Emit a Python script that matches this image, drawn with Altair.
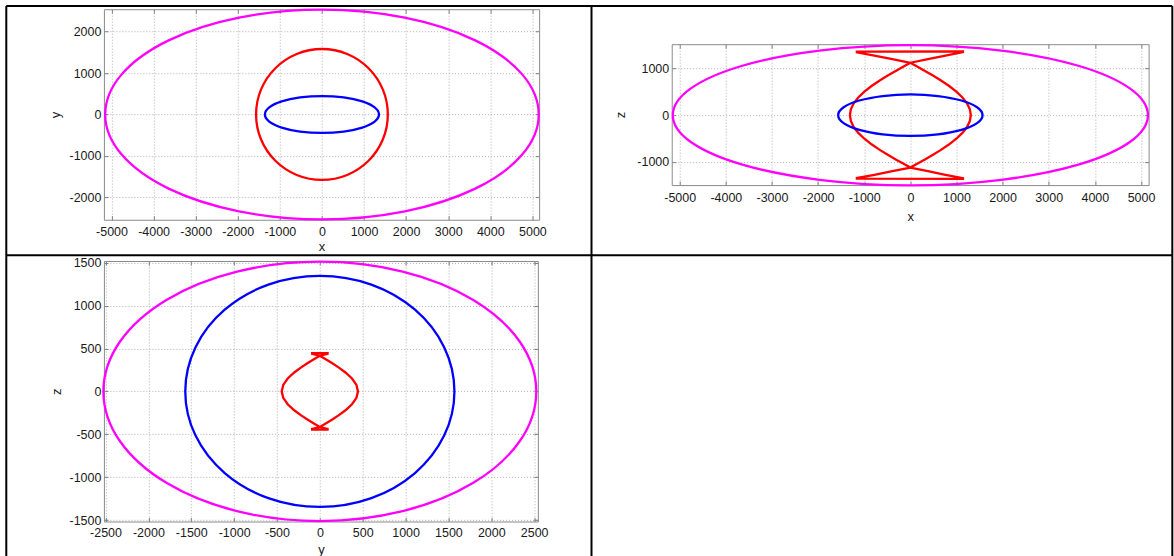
import altair as alt
import pandas as pd

# ---------------- data ----------------
# Panel 1 (x - y plane)
p1_mag_x = [5150, 4758, 3642, 1971, 0, -1971, -3642, -4758, -5150, -4758, -3642, -1971, 0, 1971, 3642, 4758]
p1_mag_y = [0, 968, 1789, 2337, 2530, 2337, 1789, 968, 0, -968, -1789, -2337, -2530, -2337, -1789, -968]
p1_red_x = [1565, 1446, 1107, 599, 0, -599, -1107, -1446, -1565, -1446, -1107, -599, 0, 599, 1107, 1446]
p1_red_y = [0, 605, 1117, 1460, 1580, 1460, 1117, 605, 0, -605, -1117, -1460, -1580, -1460, -1117, -605]
p1_blu_x = [1355, 1252, 958, 519, 0, -519, -958, -1252, -1355, -1252, -958, -519, 0, 519, 958, 1252]
p1_blu_y = [0, 170, 315, 411, 445, 411, 315, 170, 0, -170, -315, -411, -445, -411, -315, -170]

# Panel 2 (x - z plane)
p2_mag_x = [5150, 4758, 3642, 1971, 0, -1971, -3642, -4758, -5150, -4758, -3642, -1971, 0, 1971, 3642, 4758]
p2_mag_z = [0, 575, 1061, 1386, 1505, 1386, 1061, 575, 0, -575, -1061, -1386, -1505, -1386, -1061, -575]
p2_blu_x = [1565, 1446, 1107, 599, 0, -599, -1107, -1446, -1565, -1446, -1107, -599, 0, 599, 1107, 1446]
p2_blu_z = [0, 170, 315, 411, 445, 411, 315, 170, 0, -170, -315, -411, -445, -411, -315, -170]
p2_red_x = [-1160, 1140, 1140, 760, 380, 0,
            -137, -317, -490, -655, -842, -1003, -1134, -1231, -1290, -1310,
            -1290, -1231, -1134, -1003, -842, -655, -490, -317, -137, 0,
            380, 760, 1140, 1140, -1160, -1160, -780, -390, 0,
            137, 317, 490, 655, 842, 1003, 1134, 1231, 1290, 1310,
            1290, 1231, 1134, 1003, 842, 655, 490, 317, 137, 0,
            -390, -780, -1160]
p2_red_z = [1362, 1368, 1352, 1280, 1202, 1125,
            1050, 950, 850, 750, 625, 500, 375, 250, 125, 0,
            -125, -250, -375, -500, -625, -750, -850, -950, -1050, -1125,
            -1202, -1280, -1352, -1368, -1362, -1348, -1280, -1202, -1125,
            -1050, -950, -850, -750, -625, -500, -375, -250, -125, 0,
            125, 250, 375, 500, 625, 750, 850, 950, 1050, 1125,
            1202, 1280, 1348]

# Panel 3 (y - z plane)
p3_mag_y = [2525, 2333, 1785, 966, 0, -966, -1785, -2333, -2525, -2333, -1785, -966, 0, 966, 1785, 2333]
p3_mag_z = [0, 578, 1068, 1395, 1510, 1395, 1068, 578, 0, -578, -1068, -1395, -1510, -1395, -1068, -578]
p3_blu_y = [1570, 1450, 1110, 601, 0, -601, -1110, -1450, -1570, -1450, -1110, -601, 0, 601, 1110, 1450]
p3_blu_z = [0, 515, 951, 1243, 1345, 1243, 951, 515, 0, -515, -951, -1243, -1345, -1243, -951, -515]
p3_red_y = [-90, 90, 90, 0,
            -59, -141, -218, -299, -375, -427, -445,
            -427, -375, -299, -218, -141, -59, 0,
            90, 90, -90, -90, 0,
            59, 141, 218, 299, 375, 427, 445,
            427, 375, 299, 218, 141, 59, 0,
            -90]
p3_red_z = [445, 445, 438, 415,
            380, 330, 280, 220, 150, 75, 0,
            -75, -150, -220, -280, -330, -380, -415,
            -438, -445, -445, -438, -415,
            -380, -330, -280, -220, -150, -75, 0,
            75, 150, 220, 280, 330, 380, 415,
            438]

# tick values
ticks_x5000 = [-5000, -4000, -3000, -2000, -1000, 0, 1000, 2000, 3000, 4000, 5000]
ticks_y2000 = [-2000, -1000, 0, 1000, 2000]
ticks_z1000 = [-1000, 0, 1000]
ticks_y2500 = [-2500, -2000, -1500, -1000, -500, 0, 500, 1000, 1500, 2000, 2500]
ticks_z1500 = [-1500, -1000, -500, 0, 500, 1000, 1500]

MAGENTA = "#ff00ff"
RED = "#ff0000"
BLUE = "#0000ff"
LABEL_EXPR = "'' + datum.value"


def frame(h, v):
    return pd.DataFrame({"h": h, "v": v, "i": list(range(len(h)))})


def panel(curves, xdom, ydom, xticks, yticks, xtitle, ytitle, w, h, title_x, title_y,
          xpad=6.2, extra=()):
    xs = alt.Scale(domain=xdom, nice=False, zero=False)
    ys = alt.Scale(domain=ydom, nice=False, zero=False)
    layers = []
    for k, (df, color, interp) in enumerate(curves):
        if k == 0:
            xa = alt.Axis(orient="bottom", values=xticks, offset=-4, tickSize=4, domain=False,
                          grid=True, labelPadding=xpad, labelFlush=False, labelOverlap=False,
                          labelExpr=LABEL_EXPR,
                          title=xtitle, titleY=title_y, titleBaseline="alphabetic")
            ya = alt.Axis(orient="left", values=yticks, offset=-4, tickSize=4, domain=False,
                          grid=True, labelPadding=3.0, labelFlush=False, labelOverlap=False,
                          labelExpr=LABEL_EXPR,
                          title=ytitle, titleX=title_x, titleBaseline="alphabetic")
        elif k == 1:
            xa = alt.Axis(orient="top", values=xticks, offset=-4, tickSize=4, domain=False,
                          grid=False, labels=False, title="")
            ya = alt.Axis(orient="right", values=yticks, offset=-4, tickSize=4, domain=False,
                          grid=False, labels=False, title="")
        else:
            xa = None
            ya = None
        layers.append(
            alt.Chart(df).mark_line(color=color, strokeWidth=2.3, interpolate=interp).encode(
                x=alt.X("h:Q", scale=xs, axis=xa),
                y=alt.Y("v:Q", scale=ys, axis=ya),
                order=alt.Order("i:Q"),
            )
        )
    layers.extend(extra)
    return alt.layer(*layers).resolve_axis(x="independent", y="independent").properties(
        width=w, height=h, view=alt.ViewBackground(stroke="#8a8a8a", strokeWidth=1)
    )


one = pd.DataFrame({"k": [0]})


def border(x1, x2, y1, y2):
    return alt.Chart(one).mark_rule(color="black", strokeWidth=2).encode(
        x=alt.value(x1), x2=alt.value(x2), y=alt.value(y1), y2=alt.value(y2)
    )


# table borders, relative to panel 1 plot origin
borders = [
    border(-97.7, -97.7, -3.3, 549),
    border(-97.7, 1069.3, -3.3, -3.3),
    border(1069.3, 1069.3, -3.3, 549),
    border(488.0, 488.0, -3.3, 549),
    border(-97.7, 1069.3, 246.2, 246.2),
]

p1 = panel(
    [(frame(p1_mag_x, p1_mag_y), MAGENTA, "cardinal-closed"),
     (frame(p1_red_x, p1_red_y), RED, "cardinal-closed"),
     (frame(p1_blu_x, p1_blu_y), BLUE, "cardinal-closed")],
    [-5180, 5160], [-2540, 2540], ticks_x5000, ticks_y2000, "x", "y",
    435.6, 210.7, -48.1, 34.7, extra=borders,
)

p2 = panel(
    [(frame(p2_mag_x, p2_mag_z), MAGENTA, "cardinal-closed"),
     (frame(p2_red_x, p2_red_z), RED, "linear-closed"),
     (frame(p2_blu_x, p2_blu_z), BLUE, "cardinal-closed")],
    [-5173, 5165], [-1500, 1523], ticks_x5000, ticks_z1000, "x", "z",
    477.3, 141, -51.4, 39.3,
)

p3 = panel(
    [(frame(p3_mag_y, p3_mag_z), MAGENTA, "cardinal-closed"),
     (frame(p3_blu_y, p3_blu_z), BLUE, "cardinal-closed"),
     (frame(p3_red_y, p3_red_z), RED, "linear-closed")],
    [-2519, 2543], [-1515, 1518], ticks_y2500, ticks_z1500, "y", "z",
    434.3, 260.7, -47.1, 35.6, xpad=4.8,
)

spacer = alt.Chart(one).mark_point(opacity=0).encode(
    x=alt.value(0), y=alt.value(0)
).properties(width=477.3, height=35, view=alt.ViewBackground(stroke="transparent"))

col1 = alt.vconcat(p1, p3, spacing=41, bounds="flush")
col2 = alt.vconcat(spacer, p2, spacing=0, bounds="flush")

# nested flush groups count as zero width, so the gap includes column 1's width
chart = alt.hconcat(col1, col2, spacing=568.3, bounds="flush").properties(
    padding={"left": 4, "top": 4, "right": 0, "bottom": 0},
    background="white",
).configure_axis(
    labelFont="Liberation Sans", labelFontSize=12.5, labelColor="#1a1a1a",
    titleFont="Liberation Sans", titleFontSize=13, titleFontWeight="normal", titleColor="#1a1a1a",
    tickColor="#808080", tickWidth=1,
    gridColor="#b0b0b0", gridDash=[1, 2], gridWidth=1,
)

chart.save("out.html", embed_options={"renderer": "svg", "actions": False})
